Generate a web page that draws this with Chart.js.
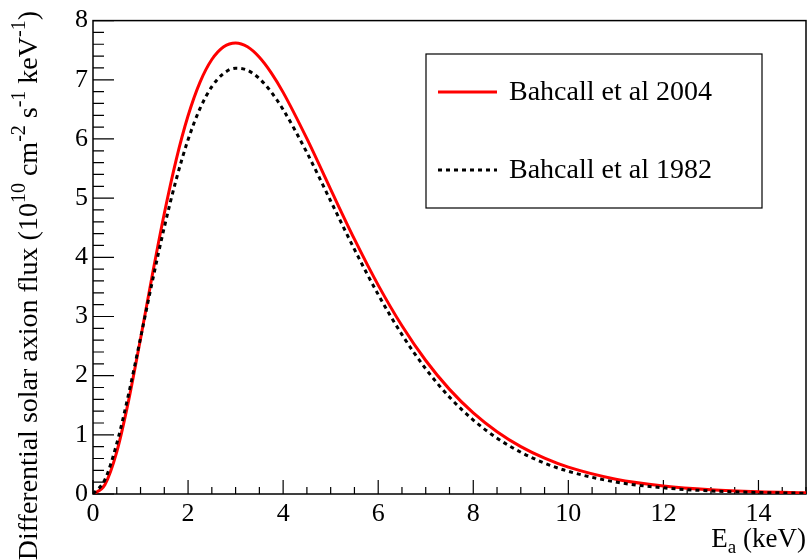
<!DOCTYPE html>
<html>
<head>
<meta charset="utf-8">
<script src="https://cdn.jsdelivr.net/npm/chart.js@4.4.1/dist/chart.umd.min.js"></script>
<style>
  html, body { margin: 0; padding: 0; background: #fff; }
  #wrap { width: 809px; height: 560px; }
</style>
</head>
<body>
<div id="wrap"><canvas id="fluxChart" width="809" height="560"></canvas></div>
<script>
// energy (keV)
const energies = [0, 0.25, 0.5, 0.75, 1, 1.25, 1.5, 1.75, 2, 2.25, 2.5, 2.75, 3, 3.25, 3.5, 3.75, 4,
    4.5, 5, 5.5, 6, 6.5, 7, 7.5, 8, 8.5, 9, 9.5, 10, 11, 12, 13, 14, 15];
// flux, 10^10 cm^-2 s^-1 keV^-1
const flux2004 = [0, 0.157, 0.712, 1.582, 2.625, 3.711, 4.741, 5.648, 6.391, 6.957, 7.342, 7.559, 7.623,
    7.557, 7.380, 7.117, 6.787, 6.004, 5.148, 4.307, 3.530, 2.843, 2.256, 1.768, 1.370, 1.052, 0.800,
    0.605, 0.453, 0.250, 0.136, 0.072, 0.038, 0.020];
const flux1982 = [0, 0.241, 0.853, 1.692, 2.637, 3.599, 4.507, 5.313, 5.987, 6.512, 6.884, 7.109, 7.195,
    7.160, 7.020, 6.792, 6.497, 5.769, 4.952, 4.134, 3.371, 2.693, 2.115, 1.637, 1.250, 0.944, 0.705,
    0.522, 0.383, 0.202, 0.104, 0.052, 0.026, 0.013];
const seriesLabels = ['Bahcall et al 2004', 'Bahcall et al 1982'];

// axis ticks
const xTicks = [0, 2, 4, 6, 8, 10, 12, 14];
const yTicks = [0, 1, 2, 3, 4, 5, 6, 7, 8];
const xMin = 0, xMax = 15, yMin = 0, yMax = 8;
const xMinorStep = 0.5, yMinorStep = 0.2;

const FONT = "'Liberation Serif', 'Times New Roman', serif";

function toPoints(ys) {
    return energies.map((e, i) => ({ x: e, y: ys[i] }));
}

// draw text made of normal / sup / sub pieces, returns width
function drawRich(ctx, parts, size, x, y, measureOnly) {
    let w = 0;
    parts.forEach(p => {
        const s = p.type === 'normal' ? size : Math.round(size * 0.7);
        ctx.font = s + 'px ' + FONT;
        let dy = 0;
        if (p.type === 'sup') dy = -size * 0.42;
        if (p.type === 'sub') dy = size * 0.22;
        if (!measureOnly) ctx.fillText(p.text, x + w, y + dy);
        w += ctx.measureText(p.text).width;
    });
    return w;
}

// ROOT 风格的内侧刻度、框、图例和轴标题
const rootStyle = {
    id: 'rootStyle',
    beforeDatasetsDraw(chart) {
        const { ctx, chartArea } = chart;
        ctx.save();
        ctx.strokeStyle = '#000';
        ctx.lineWidth = 1.5;
        ctx.strokeRect(chartArea.left, chartArea.top, chartArea.right - chartArea.left, chartArea.bottom - chartArea.top);

        const xs = chart.scales.x, ys = chart.scales.y;
        ctx.lineWidth = 1.2;
        ctx.beginPath();
        const nx = Math.round((xMax - xMin) / xMinorStep);
        for (let i = 0; i <= nx; i++) {
            const v = xMin + i * xMinorStep;
            const px = xs.getPixelForValue(v);
            const len = (i % 4 === 0) ? 14 : 7;
            ctx.moveTo(px, chartArea.bottom);
            ctx.lineTo(px, chartArea.bottom - len);
        }
        const ny = Math.round((yMax - yMin) / yMinorStep);
        for (let i = 0; i <= ny; i++) {
            const v = yMin + i * yMinorStep;
            const py = ys.getPixelForValue(v);
            const len = (i % 5 === 0) ? 21 : 11;
            ctx.moveTo(chartArea.left, py);
            ctx.lineTo(chartArea.left + len, py);
        }
        ctx.stroke();
        ctx.restore();
    },
    afterDraw(chart) {
        const { ctx } = chart;
        ctx.save();
        ctx.fillStyle = '#000';
        ctx.textBaseline = 'alphabetic';

        // x title
        const xParts = [
            { text: 'E', type: 'normal' },
            { text: 'a', type: 'sub' },
            { text: ' (keV)', type: 'normal' }
        ];
        const xw = drawRich(ctx, xParts, 27, 0, 0, true);
        drawRich(ctx, xParts, 27, 806 - xw, 547, false);

        // y title
        const yParts = [
            { text: 'Differential solar axion flux (10', type: 'normal' },
            { text: '10', type: 'sup' },
            { text: ' cm', type: 'normal' },
            { text: '-2', type: 'sup' },
            { text: ' s', type: 'normal' },
            { text: '-1', type: 'sup' },
            { text: ' keV', type: 'normal' },
            { text: '-1', type: 'sup' },
            { text: ')', type: 'normal' }
        ];
        const yw = drawRich(ctx, yParts, 28, 0, 0, true);
        ctx.save();
        ctx.translate(37, 11 + yw);
        ctx.rotate(-Math.PI / 2);
        drawRich(ctx, yParts, 28, 0, 0, false);
        ctx.restore();

        // legend
        const box = { x: 426, y: 54, w: 336, h: 154 };
        ctx.fillStyle = '#fff';
        ctx.fillRect(box.x, box.y, box.w, box.h);
        ctx.strokeStyle = '#000';
        ctx.lineWidth = 1.2;
        ctx.strokeRect(box.x, box.y, box.w, box.h);
        const rows = [92, 170];
        chart.data.datasets.forEach((ds, i) => {
            ctx.strokeStyle = ds.borderColor;
            ctx.lineWidth = ds.borderWidth;
            ctx.setLineDash(ds.borderDash || []);
            ctx.beginPath();
            ctx.moveTo(438, rows[i]);
            ctx.lineTo(497, rows[i]);
            ctx.stroke();
            ctx.setLineDash([]);
            ctx.fillStyle = '#000';
            ctx.font = '28px ' + FONT;
            ctx.textBaseline = 'middle';
            ctx.fillText(ds.label, 509, rows[i] + 1);
        });
        ctx.restore();
    }
};

const ctx = document.getElementById('fluxChart').getContext('2d');
const fluxChart = new Chart(ctx, {
    type: 'line',
    data: {
        datasets: [{
            label: seriesLabels[0],
            data: toPoints(flux2004),
            borderColor: '#ff0000',
            borderWidth: 3,
            pointRadius: 0,
            fill: false,
            cubicInterpolationMode: 'monotone',
            order: 1
        }, {
            label: seriesLabels[1],
            data: toPoints(flux1982),
            borderColor: '#000000',
            borderWidth: 3,
            borderDash: [4, 4],
            pointRadius: 0,
            fill: false,
            cubicInterpolationMode: 'monotone',
            order: 0
        }]
    },
    options: {
        responsive: false,
        animation: false,
        layout: { padding: { top: 12, right: 3, left: 0, bottom: 0 } },
        scales: {
            x: {
                type: 'linear',
                min: xMin,
                max: xMax,
                afterBuildTicks: s => { s.ticks = xTicks.map(v => ({ value: v })); },
                afterFit: s => { s.height = 66; },
                grid: { display: false, drawTicks: false },
                border: { display: false },
                ticks: {
                    color: '#000',
                    font: { family: FONT, size: 26 },
                    padding: 5,
                    maxRotation: 0,
                    autoSkip: false
                }
            },
            y: {
                type: 'linear',
                min: yMin,
                max: yMax,
                afterBuildTicks: s => { s.ticks = yTicks.map(v => ({ value: v })); },
                afterFit: s => { s.width = 93; },
                grid: { display: false, drawTicks: false },
                border: { display: false },
                ticks: {
                    color: '#000',
                    font: { family: FONT, size: 26 },
                    padding: 5
                }
            }
        },
        plugins: {
            legend: { display: false },
            tooltip: { enabled: false }
        }
    },
    plugins: [rootStyle]
});
</script>
</body>
</html>
